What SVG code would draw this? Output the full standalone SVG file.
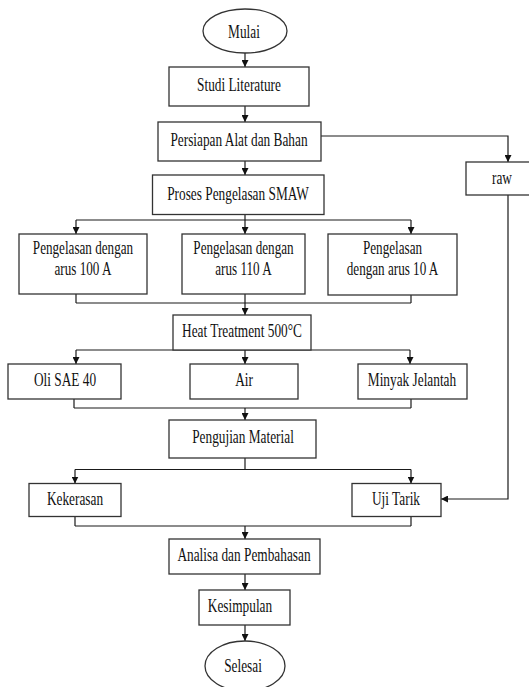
<svg xmlns="http://www.w3.org/2000/svg" width="529" height="687" viewBox="0 0 529 687">
<defs>
<marker id="ah" viewBox="0 0 10 10" refX="10" refY="5" markerWidth="7" markerHeight="7" markerUnits="userSpaceOnUse" orient="auto">
<path d="M0,0 L10,5 L0,10 Z" fill="#111"/>
</marker>
<style>
.b{fill:#fff;stroke:#333;stroke-width:1.3}
.t{font-family:"Liberation Serif","Times New Roman",serif;font-size:18px;fill:#111;text-anchor:middle}
.c line,.c polyline{fill:none;stroke:#1a1a1a;stroke-width:1.2}
.a{marker-end:url(#ah)}
</style>
</defs>
<rect width="529" height="687" fill="#fff"/>
<g class="c" id="connectors">
<line class="a" x1="245" y1="53" x2="245" y2="67"/>
<line class="a" x1="245" y1="106" x2="245" y2="122"/>
<polyline class="a" points="321,136 508,136 508,162"/>
<polyline class="a" points="508,195 508,499 441,499"/>
<line class="a" x1="245" y1="161" x2="245" y2="175"/>
<line x1="245" y1="214.5" x2="245" y2="220"/>
<line x1="76" y1="220" x2="411" y2="220"/>
<line class="a" x1="76" y1="220" x2="76" y2="234"/>
<line class="a" x1="245" y1="220" x2="245" y2="234"/>
<line class="a" x1="411" y1="220" x2="411" y2="234"/>
<line x1="76" y1="294" x2="76" y2="303"/>
<line x1="411" y1="295" x2="411" y2="303"/>
<line x1="76" y1="303" x2="411" y2="303"/>
<line class="a" x1="245" y1="294" x2="245" y2="315"/>
<line x1="76" y1="350" x2="410" y2="350"/>
<line class="a" x1="76" y1="350" x2="76" y2="364"/>
<line class="a" x1="245" y1="350" x2="245" y2="364"/>
<line class="a" x1="410" y1="350" x2="410" y2="364"/>
<line x1="74" y1="399" x2="74" y2="408"/>
<line x1="411" y1="399" x2="411" y2="408"/>
<line x1="74" y1="408" x2="411" y2="408"/>
<line class="a" x1="245" y1="408" x2="245" y2="420"/>
<line x1="245" y1="458" x2="245" y2="469.5"/>
<line x1="75" y1="469.5" x2="411" y2="469.5"/>
<line class="a" x1="75" y1="469.5" x2="75" y2="483.5"/>
<line class="a" x1="411" y1="469.5" x2="411" y2="483.5"/>
<line x1="75" y1="516.5" x2="75" y2="526"/>
<line x1="411" y1="516.5" x2="411" y2="526"/>
<line x1="75" y1="526" x2="411" y2="526"/>
<line class="a" x1="245" y1="526" x2="245" y2="539"/>
<line class="a" x1="245" y1="574" x2="245" y2="590"/>
<line class="a" x1="245" y1="625" x2="245" y2="641"/>
</g>
<g id="mulai"><ellipse class="b" cx="245" cy="31" rx="42" ry="22"/><text class="t" transform="matrix(0.74 0 0 1 244 38)">Mulai</text></g>
<g id="studi"><rect class="b" x="169" y="67" width="140" height="39"/><text class="t" transform="matrix(0.74 0 0 1 239 91)">Studi Literature</text></g>
<g id="persiapan"><rect class="b" x="158" y="122" width="163" height="39"/><text class="t" transform="matrix(0.74 0 0 1 239 146)">Persiapan Alat dan Bahan</text></g>
<g id="raw"><rect class="b" x="466" y="162" width="74" height="33"/><text class="t" transform="matrix(0.74 0 0 1 502 184)">raw</text></g>
<g id="proses"><rect class="b" x="152.5" y="175" width="171.5" height="39.5"/><text class="t" transform="matrix(0.74 0 0 1 238 199.5)">Proses Pengelasan SMAW</text></g>
<g id="las100"><rect class="b" x="19" y="234" width="128" height="60"/><text class="t" transform="matrix(0.73 0 0 1 83 254)">Pengelasan dengan</text><text class="t" transform="matrix(0.73 0 0 1 83 275)">arus 100 A</text></g>
<g id="las110"><rect class="b" x="182" y="234" width="123" height="60"/><text class="t" transform="matrix(0.73 0 0 1 243.5 254)">Pengelasan dengan</text><text class="t" transform="matrix(0.73 0 0 1 243.5 275)">arus 110 A</text></g>
<g id="las10"><rect class="b" x="328" y="234" width="129" height="61"/><text class="t" transform="matrix(0.73 0 0 1 392.5 254)">Pengelasan</text><text class="t" transform="matrix(0.73 0 0 1 392.5 275)">dengan arus 10 A</text></g>
<g id="heat"><rect class="b" x="173" y="315" width="138" height="35"/><text class="t" transform="matrix(0.74 0 0 1 242 337)">Heat Treatment 500°C</text></g>
<g id="oli"><rect class="b" x="8" y="364" width="113" height="35"/><text class="t" transform="matrix(0.74 0 0 1 65 386)">Oli SAE 40</text></g>
<g id="air"><rect class="b" x="190" y="364" width="108" height="35"/><text class="t" transform="matrix(0.74 0 0 1 244 386)">Air</text></g>
<g id="minyak"><rect class="b" x="358" y="364" width="109" height="35"/><text class="t" transform="matrix(0.74 0 0 1 412 386)">Minyak Jelantah</text></g>
<g id="pengujian"><rect class="b" x="169" y="420" width="147" height="38"/><text class="t" transform="matrix(0.74 0 0 1 243 443)">Pengujian Material</text></g>
<g id="kekerasan"><rect class="b" x="29" y="483.5" width="92" height="33"/><text class="t" transform="matrix(0.74 0 0 1 75 505)">Kekerasan</text></g>
<g id="ujitarik"><rect class="b" x="352" y="483.5" width="89" height="33"/><text class="t" transform="matrix(0.74 0 0 1 396 505)">Uji Tarik</text></g>
<g id="analisa"><rect class="b" x="169" y="539" width="151" height="35"/><text class="t" transform="matrix(0.74 0 0 1 244 561)">Analisa dan Pembahasan</text></g>
<g id="kesimpulan"><rect class="b" x="199" y="590" width="91" height="35"/><text class="t" transform="matrix(0.74 0 0 1 240 612)">Kesimpulan</text></g>
<g id="selesai"><ellipse class="b" cx="245" cy="666" rx="40" ry="25"/><text class="t" transform="matrix(0.74 0 0 1 243 672)">Selesai</text></g>
</svg>
